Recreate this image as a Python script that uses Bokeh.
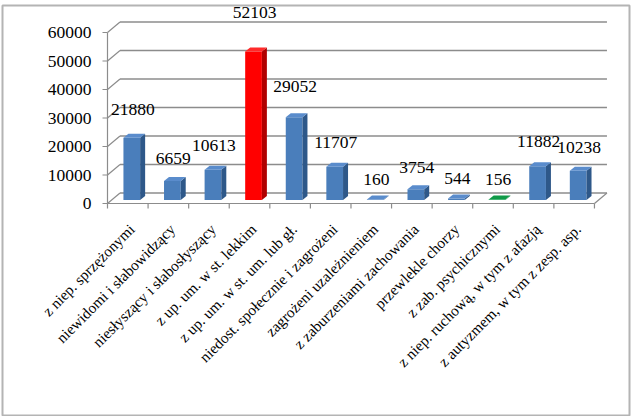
import numpy as np
from bokeh.plotting import figure
from bokeh.models import Range1d
from bokeh.embed import file_html
from bokeh.resources import INLINE
from bokeh.core.properties import value

# ---------------- data ----------------
categories = [
    "z niep. sprzężonymi",
    "niewidomi i słabowidzący",
    "niesłyszący i słabosłyszący",
    "z up. um. w st. lekkim",
    "z up. um. w st. um. lub gł.",
    "niedost. społecznie i zagrożeni",
    "zagrożeni uzależnieniem",
    "z zaburzeniami zachowania",
    "przewlekle chorzy",
    "z zab. psychicznymi",
    "z niep. ruchową, w tym z afazją",
    "z autyzmem, w tym z zesp. asp.",
]
counts = [21880, 6659, 10613, 52103, 29052, 11707, 160, 3754, 544, 156, 11882, 10238]
y_ticks = [0, 10000, 20000, 30000, 40000, 50000, 60000]
y_tick_labels = ["0", "10000", "20000", "30000", "40000", "50000", "60000"]
bar_colors = ["blue", "blue", "blue", "red", "blue", "blue",
              "blue", "blue", "blue", "green", "blue", "blue"]

# ---------------- styles ----------------
PALETTE = {
    "blue": ("#4a7ebb", "#2e5889", "#5a8ccc"),
    "red": ("#ff0000", "#b00000", "#ff2a2a"),
    "green": ("#00a550", "#007a3a", "#109a48"),
}
FONT = value("Liberation Serif")
GRID = "#8c8c8c"

W, H = 633, 416
FL, FT, FR, FB = 2, 5, 629, 415          # frame (canvas px)
X0_PX, PX_PER_CAT = 107.0, 40.58          # canvas px of x=0, px per category
Y0_PX, PX_PER_VAL = 203.0, 171.0 / 60000  # canvas px of value 0, px per unit


def dx(px):
    return px / PX_PER_CAT


def dy(px):
    return px / PX_PER_VAL


p = figure(
    width=W, height=H, output_backend="svg", toolbar_location=None,
    x_range=Range1d((FL - X0_PX) / PX_PER_CAT, (FR - X0_PX) / PX_PER_CAT),
    y_range=Range1d((Y0_PX - FB) / PX_PER_VAL, (Y0_PX - FT) / PX_PER_VAL),
    min_border_left=FL, min_border_right=W - FR,
    min_border_top=FT, min_border_bottom=H - FB,
)
p.xaxis.visible = False
p.yaxis.visible = False
p.grid.visible = False
p.outline_line_color = "#b4b4b4"
p.outline_line_width = 2
p.background_fill_color = "white"
p.border_fill_color = "white"

n = len(categories)
WX, WY = dx(12.5), dy(10.5)      # depth of walls

# back wall gridlines
ticks = np.array(y_ticks, dtype=float)
p.segment(x0=np.full(len(ticks), WX), y0=ticks + WY,
          x1=np.full(len(ticks), n + WX), y1=ticks + WY,
          line_color=GRID, line_width=1.4)
# side wall lines
p.segment(x0=np.zeros(len(ticks)), y0=ticks, x1=np.full(len(ticks), WX), y1=ticks + WY,
          line_color=GRID, line_width=1.2)
# front axis line + ticks
p.segment(x0=[0], y0=[ticks.min()], x1=[0], y1=[ticks.max()], line_color=GRID, line_width=1.2)
p.segment(x0=np.full(len(ticks), -dx(5)), y0=ticks, x1=np.zeros(len(ticks)), y1=ticks,
          line_color=GRID, line_width=1.2)
# floor front edge, right end, category ticks
p.segment(x0=[0], y0=[0], x1=[n], y1=[0], line_color=GRID, line_width=1.2)
p.segment(x0=[n], y0=[0], x1=[n + WX], y1=[WY], line_color=GRID, line_width=1.2)
bounds = np.arange(0, n + 1, dtype=float)
p.segment(x0=bounds, y0=np.zeros(n + 1), x1=bounds, y1=np.full(n + 1, -dy(5)),
          line_color=GRID, line_width=1.2)

# y tick labels
p.text(x=np.full(len(ticks), -dx(16)), y=ticks, text=y_tick_labels,
       text_font=FONT, text_font_size="17.5px", text_color="black",
       text_align="right", text_baseline="middle")

# bars (3D)
vals = np.array(counts, dtype=float)
centers = np.arange(n) + 0.5
BX, BY = dx(4), dy(3.5)          # bar offset into depth
BW = dx(16.7) / 2
DX, DY = dx(5), dy(4)            # bar depth
left = centers + BX - BW
right = centers + BX + BW
base = np.full(n, BY)
top = vals + BY

front_c = [PALETTE[c][0] for c in bar_colors]
side_c = [PALETTE[c][1] for c in bar_colors]
top_c = [PALETTE[c][2] for c in bar_colors]

side_xs = [[r, r + DX, r + DX, r] for r in right]
side_ys = [[b, b + DY, t + DY, t] for b, t in zip(base, top)]
top_xs = [[l, r, r + DX, l + DX] for l, r in zip(left, right)]
top_ys = [[t, t, t + DY, t + DY] for t in top]

p.quad(left=left, right=right, bottom=base, top=top, fill_color=front_c, line_color=None)
p.patches(xs=side_xs, ys=side_ys, fill_color=side_c, line_color=None)
p.patches(xs=top_xs, ys=top_ys, fill_color=top_c, line_color=None)

# data labels (placed above each bar, a bit higher for taller bars, as in the original)
p.text(x=centers + dx(5), y=top + vals * 0.13 + dy(20), text=[str(v) for v in counts],
       text_font=FONT, text_font_size="17.5px", text_color="black",
       text_align="center", text_baseline="middle")

# category labels (rotated)
p.text(x=centers + dx(4), y=np.full(n, -dy(23)), text=categories, angle=np.pi / 4,
       text_font=FONT, text_font_size="15.3px", text_color="black",
       text_align="right", text_baseline="middle")

open("out.html", "w").write(file_html(p, INLINE))
